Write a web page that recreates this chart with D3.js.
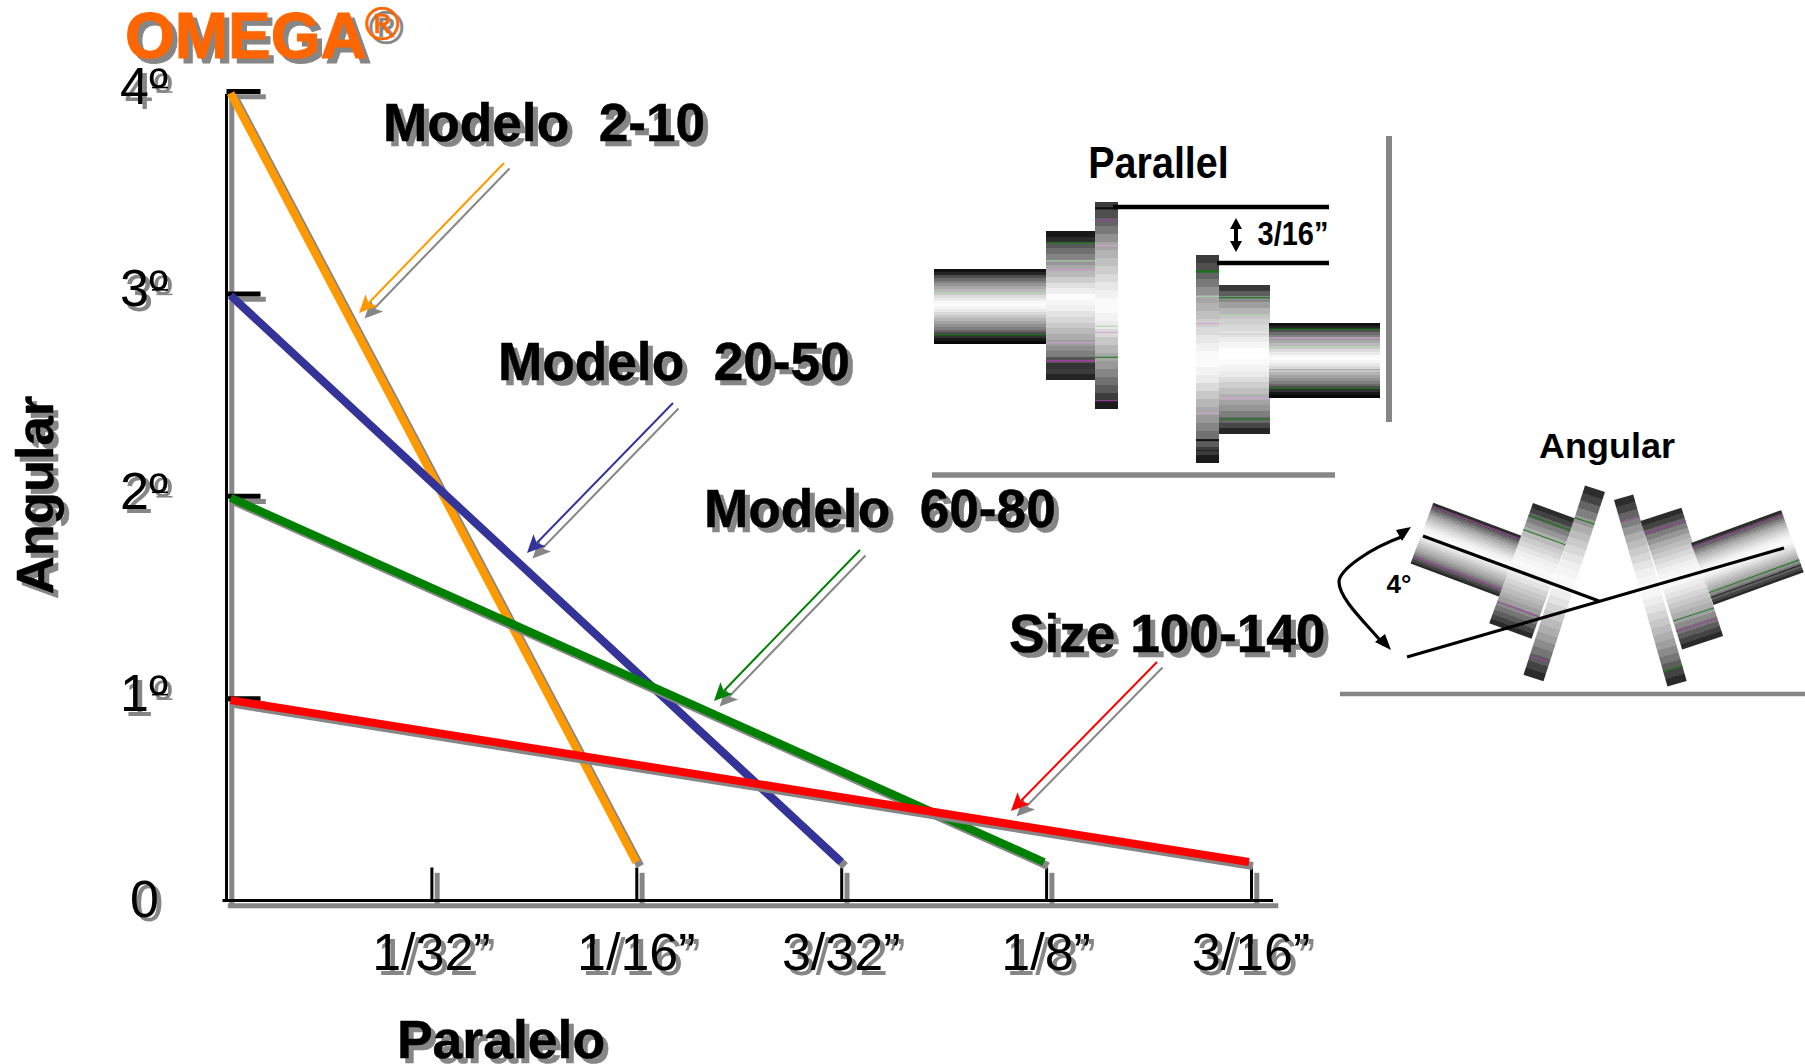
<!DOCTYPE html>
<html><head><meta charset="utf-8">
<script src="https://cdnjs.cloudflare.com/ajax/libs/d3/7.8.5/d3.min.js"></script>
<style>html,body{margin:0;padding:0;background:#fff}svg{display:block}text{font-family:"Liberation Sans",Arial,sans-serif;white-space:pre}</style>
</head><body><svg id="c" width="1805" height="1064" xmlns="http://www.w3.org/2000/svg"></svg>
<script>
// ---- data ----
const xTickValues = [1, 2, 3, 4, 5];
const xTickLabels = ["1/32”", "1/16”", "3/32”", "1/8”", "3/16”"];
const yTickValues = [1, 2, 3, 4];
const yLabelValues = [0, 1, 2, 3, 4];
const yLabels = ["0", "1º", "2º", "3º", "4º"];
const seriesNames = ["Modelo  2-10", "Modelo  20-50", "Modelo  60-80", "Size 100-140"];
const seriesColors = ["#FF9900", "#333399", "#008000", "#FF0000"];
const seriesX = [[0.02, 2.0], [0.02, 3.0], [0.02, 3.99], [0.02, 4.99]];
const seriesY = [[3.99, 0.19], [2.99, 0.19], [1.99, 0.19], [0.99, 0.19]];
const calloutPos = [[383, 141], [498, 380], [704, 527], [1009, 652]];
const arrowFrom = [[504, 163], [673, 403], [860, 550], [1157, 662]];
const arrowTo = [[359, 313], [527, 553], [714, 701], [1011, 811]];

// ---- scales ----
const x = d3.scaleLinear().domain([0, 5]).range([226.5, 1251]);
const y = d3.scaleLinear().domain([0, 4]).range([900.5, 91]);
const svg = d3.select("#c");
const GRAY = "#868686", SH = 5.3;
const defs = svg.append("defs");

function shadowText(g, s, px, py, o) {
  const tr = o.rotate ? ` rotate(${o.rotate})` : "";
  const off = o.off == null ? SH : o.off;
  let node = null;
  [[off, off, o.shadow || GRAY], [0, 0, o.fill || "#000"]].forEach(([dx, dy, c]) => {
    node = g.append("text").attr("transform", `translate(${px + dx},${py + dy})${tr}`)
      .attr("font-size", o.size).attr("font-weight", o.weight || "normal")
      .attr("text-anchor", o.anchor || "start").attr("fill", c)
      .attr("stroke", o.sw ? c : null).attr("stroke-width", o.sw || null).text(s);
  });
  return node.node().getComputedTextLength();
}

// ---- axes (shadow first, then black) ----
function drawAxes(g, color, wAxis, wTick) {
  const b = g.append("g").attr("transform", `translate(0,${y(0)})`)
    .call(d3.axisBottom(x).tickValues(xTickValues).tickSizeInner(-33).tickSizeOuter(0).tickFormat(""));
  b.select(".domain").remove();
  b.selectAll("line").attr("stroke", color).attr("stroke-width", wTick);
  g.append("line").attr("x1", x(0) - 4).attr("x2", x(5) + 22).attr("y1", y(0)).attr("y2", y(0))
    .attr("stroke", color).attr("stroke-width", wAxis);
  const l = g.append("g").attr("transform", `translate(${x(0)},0)`)
    .call(d3.axisRight(y).tickValues(yTickValues).tickSizeInner(34).tickSizeOuter(0).tickFormat(""));
  l.select(".domain").remove();
  l.selectAll("line").attr("stroke", color).attr("stroke-width", 5);
  g.append("line").attr("x1", x(0)).attr("x2", x(0)).attr("y1", y(4) + 3).attr("y2", y(0))
    .attr("stroke", color).attr("stroke-width", wAxis);
}
drawAxes(svg.append("g").attr("transform", `translate(${SH},${SH})`), GRAY, 5, 5);
drawAxes(svg.append("g"), "#000", 3, 3);

// ---- series ----
seriesNames.forEach((n, i) => {
  const pts = seriesX[i].map((v, k) => [x(v), y(seriesY[i][k])]);
  const ln = d3.line();
  svg.append("path").attr("d", ln(pts.map(p => [p[0] + 4, p[1] + 4]))).attr("fill", "none").attr("stroke", GRAY).attr("stroke-width", 8);
  svg.append("path").attr("d", ln(pts)).attr("fill", "none").attr("stroke", seriesColors[i]).attr("stroke-width", 8);
});

// ---- tick labels, titles ----
const lab = svg.append("g");
xTickValues.forEach((v, i) => shadowText(lab, xTickLabels[i], x(v), 970, {size: 52, anchor: "middle", off: 5}));
yLabelValues.forEach((v, i) => {
  const bx = v === 0 ? 130 : 120, by = y(v) + (v === 0 ? 16 : 13);
  const len = shadowText(lab, yLabels[i], bx, by, {size: 52, off: 4.5});
  if (v !== 0) {
    [[4.5, GRAY], [0, "#000"]].forEach(([d, c]) => lab.append("line")
      .attr("x1", bx + len - 16 + d).attr("x2", bx + len + d).attr("y1", by - 16.5 + d).attr("y2", by - 16.5 + d)
      .attr("stroke", c).attr("stroke-width", 1.6));
  }
});
shadowText(lab, "Angular", 53, 495, {size: 52.5, weight: "bold", rotate: -90, anchor: "middle", off: 5, sw: 0.5});
shadowText(lab, "Paralelo", 501, 1058, {size: 53.5, weight: "bold", anchor: "middle", off: 5, sw: 0.5});
shadowText(lab, "OMEGA", 125, 58, {size: 64, weight: "bold", fill: "#FF6600", off: 5, sw: 1});
shadowText(lab, "®", 365, 40, {size: 47, fill: "#FF6600", off: 4, sw: 0.7});

// ---- callouts and arrows ----
function arrow(g, a, b, c) {
  const L = Math.hypot(b[0] - a[0], b[1] - a[1]), ux = (b[0] - a[0]) / L, uy = (b[1] - a[1]) / L;
  const hl = 18, hw = 8.5, bx = b[0] - ux * hl, by = b[1] - uy * hl;
  g.append("line").attr("x1", a[0]).attr("y1", a[1]).attr("x2", bx + ux * 4).attr("y2", by + uy * 4)
    .attr("stroke", c).attr("stroke-width", 2);
  g.append("path").attr("fill", c).attr("d", d3.line()([b, [bx - uy * hw, by + ux * hw], [bx + ux * 4, by + uy * 4], [bx + uy * hw, by - ux * hw]]) + "Z");
}
seriesNames.forEach((n, i) => {
  shadowText(svg, n, calloutPos[i][0], calloutPos[i][1], {size: 53.2, weight: "bold", off: 5, sw: 0.5});
  arrow(svg.append("g").attr("transform", "translate(5.5,5.5)"), arrowFrom[i], arrowTo[i], GRAY);
  arrow(svg.append("g"), arrowFrom[i], arrowTo[i], seriesColors[i]);
});

// ---- coupling illustrations (banded shading) ----
const gradA = [[0,"#0c0c0c"],[.05,"#1c1c1c"],[.09,"#4a4a4a"],[.14,"#707070"],[.22,"#999"],[.3,"#c0c0c0"],[.38,"#e2e2e2"],[.46,"#fff"],[.54,"#f2f2f2"],[.62,"#cfcfcf"],[.7,"#a8a8a8"],[.78,"#848484"],[.84,"#606060"],[.9,"#333"],[.95,"#111"],[1,"#000"]];
const gradB = [[0,"#111"],[.05,"#222"],[.1,"#5c5c5c"],[.18,"#888"],[.28,"#b5b5b5"],[.36,"#dedede"],[.44,"#fcfcfc"],[.52,"#f0f0f0"],[.64,"#c8c8c8"],[.74,"#a2a2a2"],[.86,"#707070"],[.875,"#222"],[.93,"#444"],[1,"#181818"]];
const gradC = [[0,"#333"],[.05,"#4a4a4a"],[.12,"#707070"],[.2,"#a2a2a2"],[.3,"#c4c4c4"],[.4,"#e6e6e6"],[.5,"#fff"],[.6,"#eaeaea"],[.7,"#bcbcbc"],[.8,"#949494"],[.9,"#5e5e5e"],[.96,"#2c2c2c"],[1,"#0c0c0c"]];
const gradD = [[0,"#2a2a2a"],[.04,"#4a4a4a"],[.1,"#8c8c8c"],[.2,"#c4c4c4"],[.32,"#e0e0e0"],[.44,"#fff"],[.5,"#fff"],[.6,"#eaeaea"],[.72,"#bcbcbc"],[.84,"#909090"],[.92,"#5c5c5c"],[.97,"#2c2c2c"],[1,"#1c1c1c"]];
const gradE = [[0,"#222"],[.05,"#3c3c3c"],[.11,"#707070"],[.2,"#a8a8a8"],[.3,"#cfcfcf"],[.4,"#f0f0f0"],[.5,"#fbfbfb"],[.58,"#e8e8e8"],[.68,"#c6c6c6"],[.78,"#a4a4a4"],[.87,"#747474"],[.94,"#444"],[1,"#1e1e1e"]];
const gradients = {gradA, gradB, gradC, gradD, gradE};
const BANDS = 26;
Object.keys(gradients).forEach(id => {
  const lg = defs.append("linearGradient").attr("id", id).attr("x1", 0).attr("y1", 0).attr("x2", 0).attr("y2", 1);
  const st = gradients[id];
  const col = d3.scaleLinear().domain(st.map(s => s[0])).range(st.map(s => s[1]));
  d3.range(BANDS).forEach(k => {
    const c = col((k + .5) / BANDS);
    lg.append("stop").attr("offset", k / BANDS).attr("stop-color", c);
    lg.append("stop").attr("offset", (k + 1) / BANDS).attr("stop-color", c);
  });
});
const G = "#0c7a0c", M = "#a040a0", LG = "#a8d0a8", LM = "#d8a0d8";
function cyl(px, py, w, h, rot, grad, accents) {
  const g = svg.append("g").attr("transform", `translate(${px},${py}) rotate(${rot})`);
  g.append("rect").attr("width", w).attr("height", h).attr("fill", `url(#${grad})`);
  accents.forEach(a => g.append("line").attr("x1", 0).attr("x2", w).attr("y1", a[0] * h).attr("y2", a[0] * h)
    .attr("stroke", a[1]).attr("stroke-width", a[2] || 1));
}
// parallel
const parallelParts = [
  [934, 269, 112, 75, 0, "gradA", [[.32, LG], [.88, G]]],
  [1046, 231, 50, 149, 0, "gradB", [[.08, G], [.2, LG], [.26, LM], [.75, LM], [.87, M, 1.5]]],
  [1095, 202, 23, 207, 0, "gradC", [[.03, "#111", 2], [.09, M], [.21, LM], [.6, LG], [.63, LM], [.75, G], [.96, M]]],
  [1196, 255, 23, 208, 0, "gradC", [[.08, G, 2], [.2, LG], [.33, LM], [.76, LM], [.89, "#111", 2], [.94, "#222", 1]]],
  [1219, 285, 51, 149, 0, "gradD", [[.085, G], [.2, LG], [.33, "#ccc"], [.76, LM], [.9, G]]],
  [1269, 323, 111, 75, 0, "gradA", [[.08, G], [.2, LM], [.32, LG], [.62, "#aaa"], [.87, G]]]
];
parallelParts.forEach(p => cyl(...p));
const rules = [[1113, 207, 1329, 207, 4.5, "#000"], [1217, 263, 1329, 263, 4.5, "#000"], [1389, 136, 1389, 422, 6, GRAY], [932, 475, 1335, 475, 5.5, GRAY], [1340, 694, 1805, 694, 4.5, GRAY]];
rules.forEach(r => svg.append("line").attr("x1", r[0]).attr("y1", r[1]).attr("x2", r[2]).attr("y2", r[3]).attr("stroke-width", r[4]).attr("stroke", r[5]));
svg.append("path").attr("fill", "#000").attr("d", "M1236,218L1242,229L1238,229L1238,241L1242,241L1236,252L1230,241L1234,241L1234,229L1230,229Z");
function stretched(s, cx, base, size, sy) {
  svg.append("text").attr("transform", `translate(${cx},${base}) scale(1,${sy})`).attr("font-size", size).attr("font-weight", "bold").attr("text-anchor", "middle").text(s);
}
stretched("Parallel", 1158.5, 178, 39.5, 1.13);
stretched("3/16”", 1293, 245, 29, 1.12);
stretched("Angular", 1607, 458, 36, 0.95);
stretched("4°", 1399, 593, 26, 1);

// angular
const angularParts = [
  [1433.3, 502.7, 97, 65, 20.5, "gradE", [[.06, M], [.88, M]]],
  [1533, 503, 45, 128, 20, "gradE", [[.1, G], [.22, G], [.82, M]]],
  [1585, 485.5, 21, 199, 18, "gradE", [[.17, G], [.9, M]]],
  [1614, 500, 20, 194, -16, "gradE", [[.12, M], [.92, G]]],
  [1640.5, 521, 43, 135, -18, "gradE", [[.1, M], [.78, G], [.86, M]]],
  [1691, 543, 96, 66, -20, "gradE", [[.07, M], [.8, G], [.88, "#222"]]]
];
angularParts.forEach(p => cyl(...p));
const axesLines = [[1423, 536, 1599, 601], [1407, 657, 1784, 548]];
axesLines.forEach(l => svg.append("line").attr("x1", l[0]).attr("y1", l[1]).attr("x2", l[2]).attr("y2", l[3]).attr("stroke", "#000").attr("stroke-width", 3.2));
svg.append("path").attr("fill", "none").attr("stroke", "#000").attr("stroke-width", 3.2)
  .attr("d", "M1404,536C1370,548,1339,570,1339,582C1339,600,1371,628,1384,645");
svg.append("path").attr("fill", "#000").attr("d", "M1411,527L1396,530L1402,541Z");
svg.append("path").attr("fill", "#000").attr("d", "M1391,650L1375,642L1385,634Z");
</script></body></html>
